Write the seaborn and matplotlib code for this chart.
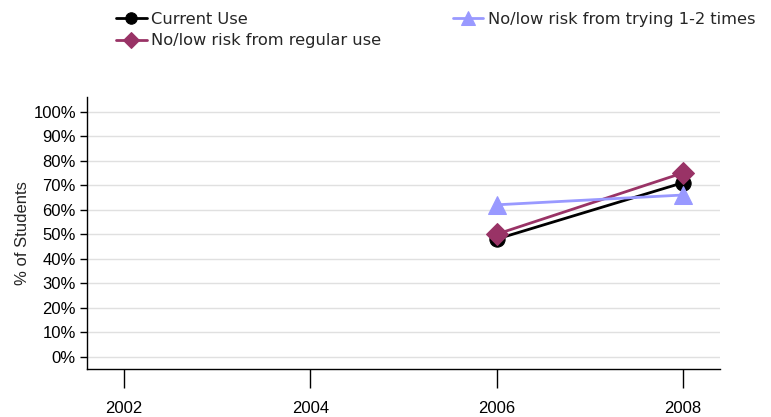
import numpy as np
import pandas as pd
import matplotlib
matplotlib.use("Agg")
import matplotlib.pyplot as plt
import seaborn as sns
from matplotlib.ticker import PercentFormatter

years = [2002, 2004, 2006, 2008]
current_use = [np.nan, np.nan, 48, 71]
risk_regular = [np.nan, np.nan, 50, 75]
risk_trying = [np.nan, np.nan, 62, 66]

series_names = ["Current Use", "No/low risk from regular use", "No/low risk from trying 1-2 times"]
series_values = [current_use, risk_regular, risk_trying]
colors = ["#000000", "#993366", "#9999FF"]
markers = ["o", "D", "^"]
marker_sizes = [11, 11, 13]

sns.set_style("white")
plt.rcParams["font.family"] = ["Liberation Sans", "DejaVu Sans"]

fig = plt.figure(figsize=(7.71, 4.17), dpi=100)
ax = fig.add_axes([87 / 771, 1 - 369 / 417, (720 - 87) / 771, (369 - 97) / 417])

for name, vals, c, m, ms in zip(series_names, series_values, colors, markers, marker_sizes):
    df = pd.DataFrame({"year": years, "pct": vals}).dropna()
    sns.lineplot(data=df, x="year", y="pct", ax=ax, color=c, marker=m, markersize=ms,
                 markeredgecolor=c, linewidth=2, label=name)

ax.set_xlim(2001.6, 2008.4)
ax.set_ylim(-5, 106)
ax.set_xticks(years)
ax.set_yticks(range(0, 101, 10))
ax.yaxis.set_major_formatter(PercentFormatter(decimals=0))
ax.grid(axis="y", color="#e0e0e0", linewidth=1)
ax.set_axisbelow(True)
for s in ["top", "right"]:
    ax.spines[s].set_visible(False)
for s in ["left", "bottom"]:
    ax.spines[s].set_color("black")
    ax.spines[s].set_linewidth(1)
ax.tick_params(axis="x", direction="out", length=14, width=1, pad=9, labelsize=12, colors="black", bottom=True)
ax.tick_params(axis="y", direction="out", length=5, width=1, pad=3, labelsize=12, colors="black", left=True)
ax.set_xlabel("")
ax.set_ylabel("% of Students", fontsize=12, labelpad=2)

handles, labels = ax.get_legend_handles_labels()
ax.get_legend().remove()
fig.legend(handles, labels, ncol=2, loc="upper left", bbox_to_anchor=(116 / 771, 1 - 12 / 417),
           frameon=False, prop={"family": "DejaVu Sans", "size": 11.7}, markerscale=0.75,
           borderpad=0, borderaxespad=0,
           handlelength=1.9, handletextpad=0.25, columnspacing=4.4, labelspacing=0.4)

fig.savefig("out.png", dpi=100)
